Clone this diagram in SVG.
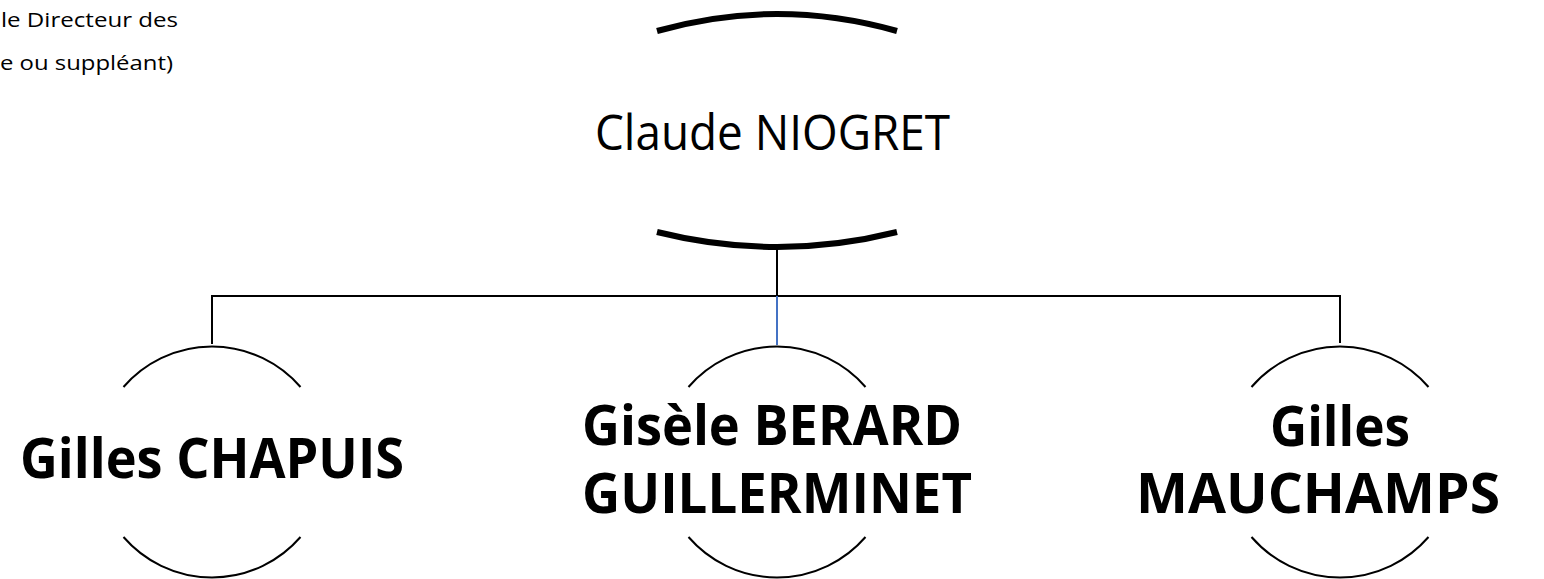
<svg xmlns="http://www.w3.org/2000/svg" width="1544" height="579" viewBox="0 0 1544 579">
<style>
.arc{fill:none;stroke:#000;stroke-width:2}
.thick{fill:none;stroke:#000;stroke-width:6}
.ln{fill:none;stroke:#000;stroke-width:2}
.reg{font-family:"Open Sans","Liberation Sans",sans-serif;fill:#000}
.bold{font-family:"Open Sans","Liberation Sans",sans-serif;font-weight:bold;fill:#000;text-anchor:middle}
</style>
<rect width="1544" height="579" fill="#fff"/>
<g id="note">
<text class="reg" x="1" y="27" font-size="20" textLength="177" lengthAdjust="spacingAndGlyphs">le Directeur des</text>
<text class="reg" x="0" y="70" font-size="20" textLength="173" lengthAdjust="spacingAndGlyphs">e ou suppléant)</text>
</g>
<g id="connectors">
<path class="ln" d="M777 247 V296"/>
<path class="ln" d="M212 344 V296 H1340 V343"/>
<path fill="none" stroke="#4472C4" stroke-width="2" d="M777 296 V345"/>
</g>
<g id="node-niogret">
<path class="thick" d="M657 31 Q777 -3 897 31"/>
<path class="thick" d="M657 232 Q777 262 897 232"/>
<text class="reg" x="595" y="150" font-size="49" textLength="355" lengthAdjust="spacingAndGlyphs">Claude NIOGRET</text>
</g>
<g id="node-chapuis">
<path class="arc" d="M123.5 387 A117 117 0 0 1 300.5 387"/>
<path class="arc" d="M123.5 537 A117 117 0 0 0 300.5 537"/>
<text class="bold" x="212" y="478" font-size="56" textLength="384" lengthAdjust="spacingAndGlyphs">Gilles CHAPUIS</text>
</g>
<g id="node-berard">
<path class="arc" d="M688.5 387 A117 117 0 0 1 865.5 387"/>
<path class="arc" d="M688.5 537 A117 117 0 0 0 865.5 537"/>
<text class="bold" x="772" y="445" font-size="56" textLength="380" lengthAdjust="spacingAndGlyphs">Gisèle BERARD</text>
<text class="bold" x="777" y="513" font-size="56" textLength="390" lengthAdjust="spacingAndGlyphs">GUILLERMINET</text>
</g>
<g id="node-mauchamps">
<path class="arc" d="M1251.5 387 A117 117 0 0 1 1428.5 387"/>
<path class="arc" d="M1251.5 537 A117 117 0 0 0 1428.5 537"/>
<text class="bold" x="1340" y="446" font-size="56" textLength="140" lengthAdjust="spacingAndGlyphs">Gilles</text>
<text class="bold" x="1318" y="513" font-size="56" textLength="364" lengthAdjust="spacingAndGlyphs">MAUCHAMPS</text>
</g>
</svg>
